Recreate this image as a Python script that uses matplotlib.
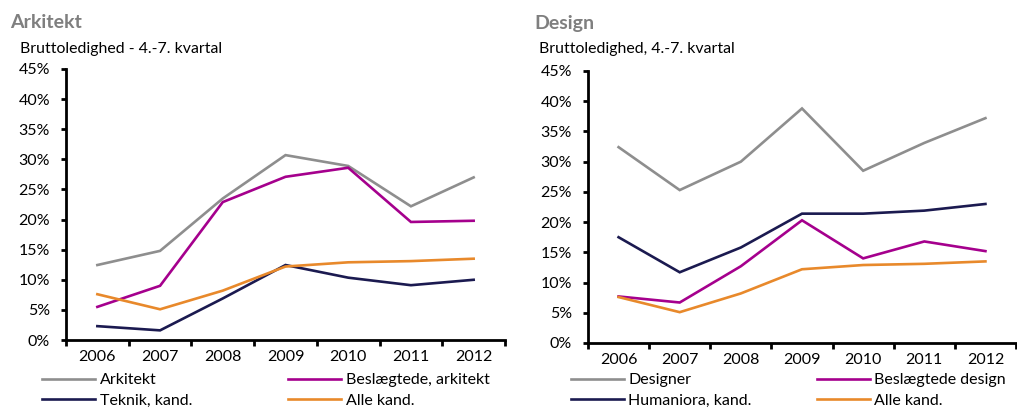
import matplotlib
matplotlib.use("Agg")
import matplotlib.pyplot as plt
from matplotlib.ticker import FuncFormatter, FixedLocator

plt.rcParams['font.family'] = ['Lato', 'DejaVu Sans']

years = ["2006", "2007", "2008", "2009", "2010", "2011", "2012"]

# Arkitekt panel
arkitekt = [12.45, 14.8, 23.5, 30.7, 28.9, 22.2, 27.0]
beslaegtede_ark = [5.5, 9.0, 22.9, 27.1, 28.6, 19.6, 19.8]
teknik = [2.3, 1.6, 6.9, 12.45, 10.35, 9.1, 10.0]
alle = [7.6, 5.1, 8.2, 12.2, 12.9, 13.1, 13.5]

# Design panel
designer = [32.4, 25.3, 30.0, 38.8, 28.5, 33.1, 37.2]
beslaegtede_des = [7.7, 6.7, 12.7, 20.3, 14.0, 16.8, 15.2]
humaniora = [17.5, 11.7, 15.8, 21.4, 21.4, 21.9, 23.0]

GRAY = "#8E8E8E"
MAG = "#A5008D"
NAVY = "#1B1A50"
ORANGE = "#E8892B"

TICK_FS = 11.5
LEG_FS = 11.5

fig = plt.figure(figsize=(10.17, 4.08), dpi=100)

def setup(ax, title, subtitle, series, title_x, sub_x):
    x = list(range(len(years)))
    lines = []
    for vals, col, lab in series:
        l, = ax.plot(x, [v / 100 for v in vals], color=col, lw=1.9, label=lab,
                     solid_joinstyle='miter')
        lines.append(l)
    ax.set_xlim(-0.5, len(years) - 0.5)
    ax.set_ylim(0, 0.45)
    ax.spines['top'].set_visible(False)
    ax.spines['right'].set_visible(False)
    ax.spines['left'].set_linewidth(2)
    ax.spines['bottom'].set_linewidth(2)
    ax.set_yticks([i * 0.05 for i in range(10)])
    ax.yaxis.set_major_formatter(FuncFormatter(lambda v, p: f"{round(v*100)}%"))
    ax.xaxis.set_major_locator(FixedLocator([i - 0.5 for i in range(len(years) + 1)]))
    ax.xaxis.set_major_formatter(FuncFormatter(lambda v, p: ""))
    ax.xaxis.set_minor_locator(FixedLocator(x))
    ax.set_xticklabels(years, minor=True)
    ax.tick_params(axis='x', which='major', length=4, width=2, direction='out')
    ax.tick_params(axis='x', which='minor', length=0, pad=7, labelsize=TICK_FS)
    ax.tick_params(axis='y', which='major', length=3.5, width=2, pad=8, labelsize=TICK_FS)
    fig.text(title_x, 1 - 23 / 408, title, fontsize=14, fontweight='bold',
             color="#7F7F7F", va='center', ha='left')
    fig.text(sub_x, 1 - 49 / 408, subtitle, fontsize=11.4, va='center', ha='left')
    return lines

ax1 = fig.add_axes([66 / 1017, 1 - 340 / 408, (505 - 66) / 1017, (340 - 69) / 408])
l1 = setup(ax1, "Arkitekt", "Bruttoledighed - 4.-7. kvartal",
           [(arkitekt, GRAY, "Arkitekt"),
            (beslaegtede_ark, MAG, "Beslægtede, arkitekt"),
            (teknik, NAVY, "Teknik, kand."),
            (alle, ORANGE, "Alle kand.")],
           10 / 1017, 20 / 1017)

ax2 = fig.add_axes([588 / 1017, 1 - 343 / 408, (1016 - 588) / 1017, (343 - 71) / 408])
l2 = setup(ax2, "Design", "Bruttoledighed, 4.-7. kvartal",
           [(designer, GRAY, "Designer"),
            (beslaegtede_des, MAG, "Beslægtede design"),
            (humaniora, NAVY, "Humaniora, kand."),
            (alle, ORANGE, "Alle kand.")],
           534 / 1017, 539 / 1017)

def add_legend(lines, x_col1, x_col2):
    # column 1: lines[0], lines[2]; column 2: lines[1], lines[3]
    for xs, idxs in ((x_col1, (0, 2)), (x_col2, (1, 3))):
        fig.legend([lines[i] for i in idxs], [lines[i].get_label() for i in idxs],
                   loc='upper left', bbox_to_anchor=(xs, 1 - 373 / 408),
                   frameon=False, fontsize=LEG_FS, handlelength=3.3,
                   handletextpad=0.3, labelspacing=0.42, borderpad=0,
                   borderaxespad=0)

add_legend(l1, 42 / 1017, 288 / 1017)
add_legend(l2, 571 / 1017, 817 / 1017)

fig.savefig("out.png", dpi=100)
